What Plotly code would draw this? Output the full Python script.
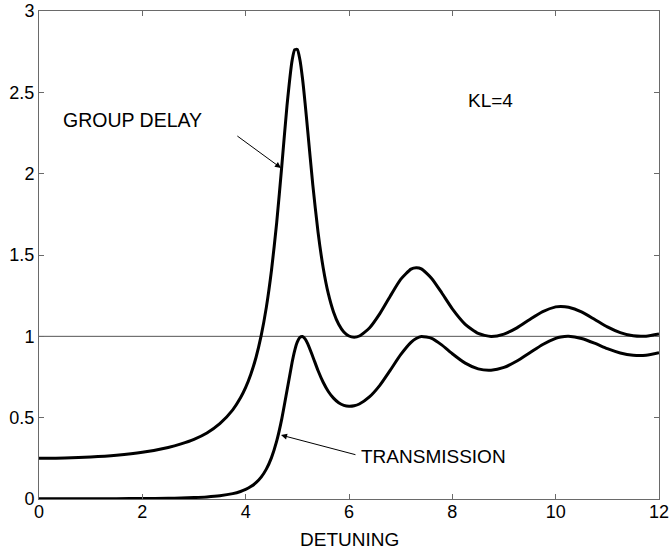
import plotly.graph_objects as go

# Detuning values (x)
detuning = [0, 0.5, 1.0, 1.5, 2.0, 2.5, 2.75, 3.0, 3.25, 3.5, 3.75, 3.9, 4.0, 4.1, 4.2,
            4.3, 4.4, 4.5, 4.6, 4.7, 4.8, 4.9, 4.95, 5.0, 5.05, 5.1, 5.15, 5.2, 5.3,
            5.4, 5.5, 5.6, 5.7, 5.8, 5.9, 6.0, 6.1, 6.2, 6.4, 6.6, 6.8, 7.0, 7.2,
            7.3, 7.4, 7.6, 7.8, 8.0, 8.25, 8.5, 8.75, 9.0, 9.25, 9.5, 9.75, 10.0,
            10.1, 10.25, 10.5, 10.75, 11.0, 11.25, 11.5, 11.75, 12.0]

group_delay = [0.250, 0.252, 0.258, 0.269, 0.287, 0.317, 0.339, 0.367, 0.406, 0.463,
               0.548, 0.622, 0.686, 0.767, 0.870, 1.004, 1.178, 1.406, 1.697, 2.050,
               2.418, 2.698, 2.762, 2.763, 2.700, 2.585, 2.434, 2.266, 1.929, 1.642,
               1.422, 1.262, 1.150, 1.074, 1.027, 1.002, 0.995, 1.002, 1.053, 1.141,
               1.248, 1.350, 1.413, 1.422, 1.415, 1.356, 1.265, 1.169, 1.074, 1.018,
               0.999, 1.014, 1.052, 1.104, 1.152, 1.181, 1.184, 1.179, 1.150, 1.105,
               1.058, 1.023, 1.003, 1.001, 1.014]

transmission = [0.0013, 0.0014, 0.0016, 0.0021, 0.0029, 0.0047, 0.0063, 0.0088, 0.0129,
                0.0199, 0.0329, 0.0461, 0.0588, 0.0762, 0.1004, 0.1347, 0.1838, 0.2546,
                0.3556, 0.4943, 0.6666, 0.842, 0.914, 0.966, 0.994, 0.999, 0.984, 0.955,
                0.875, 0.790, 0.718, 0.661, 0.620, 0.592, 0.576, 0.570, 0.573, 0.584,
                0.629, 0.700, 0.792, 0.887, 0.963, 0.987, 0.999, 0.988, 0.946, 0.893,
                0.835, 0.800, 0.792, 0.809, 0.848, 0.899, 0.950, 0.988, 0.996, 1.000,
                0.987, 0.958, 0.924, 0.898, 0.884, 0.884, 0.899]

x_ticks = [0, 2, 4, 6, 8, 10, 12]
y_ticks = [0, 0.5, 1, 1.5, 2, 2.5, 3]
y_tick_text = ["0", "0.5", "1", "1.5", "2", "2.5", "3"]
reference_level = 1

FONT = "Liberation Sans, Arial, Helvetica, sans-serif"
AXIS_COLOR = "#6a6a6a"

fig = go.Figure()
fig.add_trace(go.Scatter(x=[0, 12], y=[reference_level, reference_level], mode="lines",
                         line=dict(color="#555555", width=1), hoverinfo="skip",
                         showlegend=False))
fig.add_trace(go.Scatter(x=detuning, y=group_delay, mode="lines",
                         line=dict(color="black", width=3, shape="spline", smoothing=0.6),
                         name="GROUP DELAY", showlegend=False))
fig.add_trace(go.Scatter(x=detuning, y=transmission, mode="lines",
                         line=dict(color="black", width=3, shape="spline", smoothing=0.6),
                         name="TRANSMISSION", showlegend=False))

axis_common = dict(showgrid=False, zeroline=False, showline=True, linecolor=AXIS_COLOR,
                   linewidth=1, mirror="ticks", ticks="inside", ticklen=5,
                   tickcolor=AXIS_COLOR, automargin=False,
                   tickfont=dict(family=FONT, size=18, color="black"))

fig.update_xaxes(range=[0, 12], tickvals=x_ticks, ticktext=[str(v) for v in x_ticks],
                 ticklabelstandoff=-4, **axis_common)
fig.update_yaxes(range=[0, 3], tickvals=y_ticks, ticktext=y_tick_text, **axis_common)

annotations = [
    dict(x=0.5, y=-0.084, xref="paper", yref="paper", text="DETUNING", showarrow=False,
         font=dict(family=FONT, size=19, color="black"), xanchor="center", yanchor="middle"),
    dict(x=0.42, y=2.33, xref="x", yref="y", text="GROUP DELAY", showarrow=False,
         font=dict(family=FONT, size=19.5, color="black"), xanchor="left", yanchor="middle"),
    dict(x=8.26, y=2.447, xref="x", yref="y", text="KL=4", showarrow=False,
         font=dict(family=FONT, size=19, color="black"), xanchor="left", yanchor="middle"),
    dict(x=6.19, y=0.264, xref="x", yref="y", text="TRANSMISSION", showarrow=False,
         font=dict(family=FONT, size=19, color="black"), xanchor="left", yanchor="middle"),
    dict(x=4.684, y=2.035, ax=3.81, ay=2.238, xref="x", yref="y", axref="x", ayref="y",
         text="", showarrow=True, arrowhead=2, arrowsize=1.2, arrowwidth=1,
         arrowcolor="black", standoff=0),
    dict(x=4.684, y=0.393, ax=6.154, ay=0.270, xref="x", yref="y", axref="x", ayref="y",
         text="", showarrow=True, arrowhead=2, arrowsize=1.2, arrowwidth=1,
         arrowcolor="black", standoff=0),
]

fig.update_layout(width=671, height=552, margin=dict(l=39, r=12, t=11, b=53,
                                                       autoexpand=False),
                  plot_bgcolor="white", paper_bgcolor="white",
                  annotations=annotations, font=dict(family=FONT))

fig.write_html("out.html")
